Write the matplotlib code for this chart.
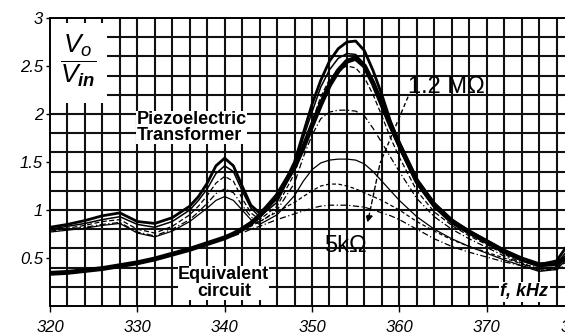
import matplotlib
matplotlib.use("Agg")
import matplotlib.pyplot as plt
from matplotlib.patches import Rectangle
import numpy as np

plt.rcParams['font.family'] = 'Liberation Sans'
plt.rcParams['mathtext.fontset'] = 'custom'
plt.rcParams['mathtext.it'] = 'Liberation Sans:italic'
plt.rcParams['mathtext.rm'] = 'Liberation Sans'
plt.rcParams['mathtext.bf'] = 'Liberation Sans:bold:italic'

# frequency grid, kHz
freq = [320, 322, 324, 326, 328, 330, 332, 334, 336, 337, 338, 339, 340, 341, 342, 343, 344,
        346, 348, 349, 350, 351, 352, 353, 354, 355, 356, 357, 358, 359, 360,
        362, 364, 366, 368, 370, 372, 374, 376, 378, 379]

# piezoelectric transformer, several loads
pt_a = [0.82, 0.85, 0.89, 0.94, 0.97, 0.88, 0.86, 0.92, 1.04, 1.14, 1.28, 1.46, 1.54, 1.46, 1.25, 1.05, 0.97,
        1.12, 1.50, 1.80, 2.10, 2.35, 2.55, 2.68, 2.75, 2.76, 2.66, 2.45, 2.20, 1.92, 1.70,
        1.32, 1.07, 0.90, 0.78, 0.68, 0.58, 0.49, 0.43, 0.47, 0.60]
pt_b = [0.80, 0.83, 0.86, 0.90, 0.93, 0.85, 0.82, 0.88, 1.00, 1.10, 1.22, 1.38, 1.46, 1.40, 1.20, 1.02, 0.93,
        1.08, 1.45, 1.75, 2.02, 2.28, 2.46, 2.58, 2.63, 2.62, 2.52, 2.33, 2.10, 1.85, 1.64,
        1.27, 1.03, 0.87, 0.75, 0.66, 0.56, 0.47, 0.41, 0.44, 0.55]
pt_c = [0.79, 0.81, 0.84, 0.88, 0.90, 0.80, 0.76, 0.83, 0.95, 1.04, 1.15, 1.28, 1.35, 1.30, 1.12, 0.97, 0.90,
        1.04, 1.38, 1.66, 1.92, 2.18, 2.36, 2.46, 2.50, 2.48, 2.38, 2.20, 1.98, 1.75, 1.55,
        1.20, 0.98, 0.84, 0.73, 0.64, 0.54, 0.45, 0.38, 0.41, 0.52]
pt_d = [0.78, 0.80, 0.82, 0.85, 0.87, 0.77, 0.73, 0.80, 0.90, 0.98, 1.07, 1.17, 1.22, 1.18, 1.05, 0.93, 0.87,
        1.00, 1.28, 1.55, 1.78, 1.95, 2.02, 2.04, 2.04, 2.03, 1.98, 1.85, 1.70, 1.55, 1.40,
        1.12, 0.93, 0.80, 0.70, 0.61, 0.52, 0.44, 0.37, 0.39, 0.50]
pt_e = [0.77, 0.79, 0.81, 0.84, 0.86, 0.76, 0.72, 0.78, 0.88, 0.95, 1.02, 1.10, 1.14, 1.10, 1.00, 0.90, 0.85,
        0.95, 1.15, 1.30, 1.42, 1.49, 1.52, 1.53, 1.53, 1.52, 1.48, 1.40, 1.30, 1.20, 1.10,
        0.93, 0.80, 0.70, 0.62, 0.55, 0.48, 0.42, 0.36, 0.38, 0.47]

# equivalent circuit
eq_a = [0.34, 0.35, 0.37, 0.39, 0.42, 0.45, 0.49, 0.54, 0.59, 0.62, 0.65, 0.68, 0.71, 0.75, 0.80, 0.86, 0.94,
        1.15, 1.45, 1.65, 1.88, 2.10, 2.30, 2.45, 2.55, 2.58, 2.50, 2.32, 2.10, 1.88, 1.68,
        1.30, 1.05, 0.88, 0.77, 0.67, 0.57, 0.49, 0.43, 0.44, 0.50]
eq_b = [0.34, 0.35, 0.37, 0.39, 0.42, 0.45, 0.49, 0.54, 0.59, 0.62, 0.65, 0.68, 0.71, 0.74, 0.78, 0.83, 0.88,
        0.98, 1.08, 1.14, 1.20, 1.25, 1.27, 1.27, 1.25, 1.22, 1.18, 1.14, 1.10, 1.05, 1.00,
        0.88, 0.78, 0.69, 0.62, 0.56, 0.50, 0.44, 0.39, 0.40, 0.45]
eq_c = [0.34, 0.35, 0.37, 0.39, 0.42, 0.45, 0.49, 0.54, 0.59, 0.62, 0.65, 0.68, 0.71, 0.73, 0.76, 0.80, 0.83,
        0.90, 0.96, 0.99, 1.02, 1.04, 1.05, 1.05, 1.05, 1.04, 1.03, 1.00, 0.97, 0.94, 0.90,
        0.80, 0.70, 0.62, 0.56, 0.51, 0.46, 0.42, 0.37, 0.38, 0.42]

x_ticks = [320, 330, 340, 350, 360, 370, 380]
y_ticks = [0.5, 1, 1.5, 2, 2.5, 3]
y_ticklabels = ['0.5', '1', '1.5', '2', '2.5', '3']

fig = plt.figure(figsize=(5.65, 3.35), dpi=100)
ax = fig.add_axes([50 / 565, 29 / 335, 524 / 565, 288 / 335])
ax.set_xlim(320, 380)
ax.set_ylim(0, 3)

# grid: every 2 kHz and every 0.2
ax.vlines(np.arange(322, 380, 2), 0, 3, colors='#111111', lw=1.5, zorder=1)
ax.hlines(np.arange(0.2, 3.0, 0.2), 320, 380, colors='#111111', lw=1.5, zorder=1)
# clear area behind the V_o/V_in label
ax.add_patch(Rectangle((320.15, 2.11), 6.35, 0.84, facecolor='white', edgecolor='none', zorder=1.5))

k = 'black'
ax.plot(freq, pt_e, color=k, lw=0.9, zorder=2)
ax.plot(freq, pt_d, color=k, lw=0.9, ls=(0, (5, 2, 1, 2)), zorder=2)
ax.plot(freq, pt_c, color=k, lw=0.9, ls=(0, (4, 2)), zorder=2)
ax.plot(freq, pt_b, color=k, lw=1.1, zorder=2)
ax.plot(freq, pt_a, color=k, lw=2.0, zorder=2)
ax.plot(freq, eq_c, color=k, lw=0.9, ls=(0, (5, 2, 1, 2)), zorder=2)
ax.plot(freq, eq_b, color=k, lw=0.9, ls=(0, (3, 2)), zorder=2)
ax.plot(freq, eq_a, color=k, lw=3.5, zorder=2)

for s in ['left', 'bottom', 'top']:
    ax.spines[s].set_linewidth(1.4)
ax.spines['right'].set_visible(False)

ax.set_xticks(x_ticks)
ax.set_xticklabels([str(v) for v in x_ticks], fontstyle='italic', fontsize=12)
ax.set_yticks(y_ticks)
ax.set_yticklabels(y_ticklabels, fontstyle='italic', fontsize=12)
ax.tick_params(axis='x', direction='out', length=4, width=1, pad=6)
ax.tick_params(axis='y', direction='out', length=3, width=1, pad=2)
for lab in ax.get_xticklabels():
    lab.set_clip_on(False)

# labels
ax.text(323.2, 2.56, r'$\dfrac{V_o}{V_{\mathbf{in}}}$', fontsize=19, ha='center', va='center', zorder=6)
ax.text(329.9, 1.86, 'Piezoelectric\nTransformer', fontsize=13, fontweight='bold', ha='left', va='center',
        linespacing=0.95, zorder=6, bbox=dict(facecolor='white', edgecolor='none', pad=0))
ax.text(339.9, 0.24, 'Equivalent\ncircuit', fontsize=13, fontweight='bold', ha='center', va='center',
        linespacing=0.95, zorder=6, bbox=dict(facecolor='white', edgecolor='none', pad=0))
ax.text(374.3, 0.15, 'f, kHz', fontsize=13, fontweight='bold', fontstyle='italic', ha='center', va='center',
        zorder=6, bbox=dict(facecolor='white', edgecolor='none', pad=1))
ax.text(361.0, 2.28, '1.2 M\u03a9', fontsize=17, ha='left', va='center', zorder=6)
ax.text(353.8, 0.63, '5k\u03a9', fontsize=17, ha='center', va='center', zorder=6)

# load direction arrow
ax.plot([361.0, 357.8], [2.18, 1.49], color=k, lw=1.0, ls=(0, (3, 2)), zorder=4)
ax.annotate('', xy=(356.3, 0.84), xytext=(357.8, 1.49),
            arrowprops=dict(arrowstyle='-|>', color=k, lw=1.0, ls=(0, (3, 2)), mutation_scale=10), zorder=4)

fig.savefig('out.png', dpi=100)
